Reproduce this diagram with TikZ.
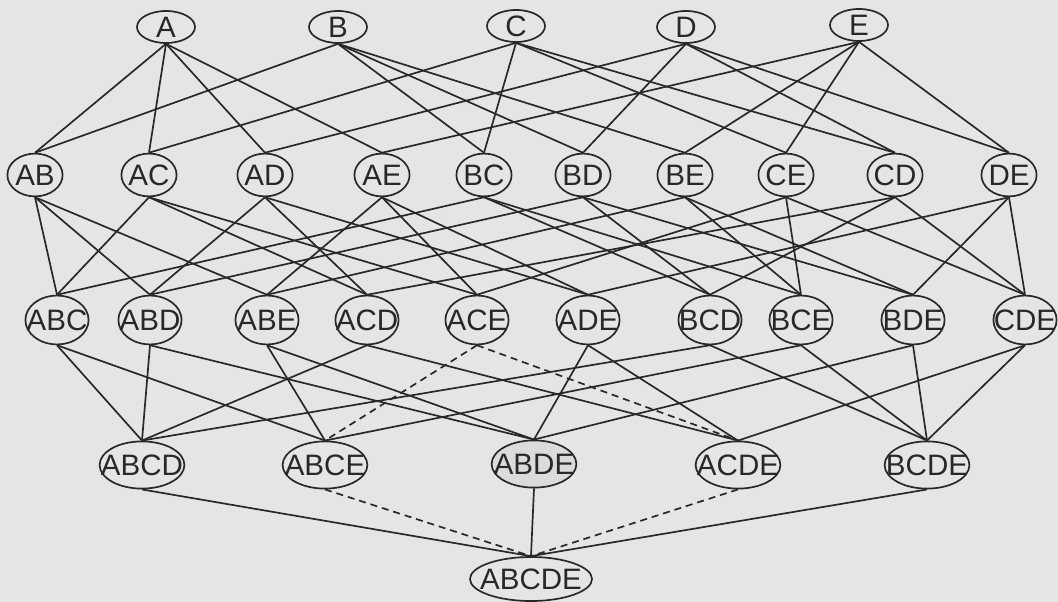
\documentclass[tikz,border=0pt]{standalone}
\usepackage{fontspec}
\setmainfont{Liberation Sans}
\usepackage{tikz}
\usetikzlibrary{shapes.geometric}
\definecolor{paper}{RGB}{229,229,231}
\definecolor{ink}{RGB}{40,40,42}
\definecolor{shade}{RGB}{219,219,222}
% label set in a zero-width box, so the ellipse keeps its own size
\newcommand{\setlbl}[1]{\makebox[0pt]{#1}}
\tikzset{
  setnode/.style={ellipse, draw=ink, line width=1.2pt, inner sep=0pt,
    font=\fontsize{21}{22}\selectfont, text=ink},
  lvone/.style={setnode, minimum width=1.45cm, minimum height=0.8cm},
  lvtwo/.style={setnode, minimum width=1.38cm, minimum height=1.07cm},
  lvthree/.style={setnode, minimum width=1.58cm, minimum height=1.22cm},
  lvfour/.style={setnode, minimum width=2.12cm, minimum height=1.18cm},
  lvfive/.style={setnode, minimum width=3.05cm, minimum height=1.1cm},
  link/.style={ink, line width=1.2pt},
  dlink/.style={link, dash pattern=on 5pt off 3.5pt}
}
\begin{document}
\begin{tikzpicture}[x=0.025cm, y=-0.025cm]
  % page background
  \fill[paper] (0,0) rectangle (1058,602);
  \useasboundingbox (0,0) rectangle (1058,602);

  % singletons
  \node[lvone] (A) at (166,27) {\setlbl{A}};
  \node[lvone] (B) at (338,27) {\setlbl{B}};
  \node[lvone] (C) at (516,26) {\setlbl{C}};
  \node[lvone] (D) at (686,27) {\setlbl{D}};
  \node[lvone] (E) at (859,25) {\setlbl{E}};

  % pairs
  \node[lvtwo] (AB) at (35,175) {\setlbl{AB}};
  \node[lvtwo] (AC) at (149,175) {\setlbl{AC}};
  \node[lvtwo] (AD) at (265,175) {\setlbl{AD}};
  \node[lvtwo] (AE) at (382,175) {\setlbl{AE}};
  \node[lvtwo] (BC) at (484,175) {\setlbl{BC}};
  \node[lvtwo] (BD) at (583,175) {\setlbl{BD}};
  \node[lvtwo] (BE) at (685,175) {\setlbl{BE}};
  \node[lvtwo] (CE) at (786,175) {\setlbl{CE}};
  \node[lvtwo] (CD) at (895,175) {\setlbl{CD}};
  \node[lvtwo] (DE) at (1009,175) {\setlbl{DE}};

  % triples
  \node[lvthree] (ABC) at (57,320) {\setlbl{ABC}};
  \node[lvthree] (ABD) at (150,320) {\setlbl{ABD}};
  \node[lvthree] (ABE) at (267,320) {\setlbl{ABE}};
  \node[lvthree] (ACD) at (367,320) {\setlbl{ACD}};
  \node[lvthree] (ACE) at (477,320) {\setlbl{ACE}};
  \node[lvthree] (ADE) at (588,320) {\setlbl{ADE}};
  \node[lvthree] (BCD) at (710,320) {\setlbl{BCD}};
  \node[lvthree] (BCE) at (801,320) {\setlbl{BCE}};
  \node[lvthree] (BDE) at (913,320) {\setlbl{BDE}};
  \node[lvthree] (CDE) at (1025,320) {\setlbl{CDE}};

  % quadruples
  \node[lvfour] (ABCD) at (142,465) {\setlbl{ABCD}};
  \node[lvfour] (ABCE) at (325,465) {\setlbl{ABCE}};
  \node[lvfour, fill=shade] (ABDE) at (534,464) {\setlbl{ABDE}};
  \node[lvfour] (ACDE) at (738,465) {\setlbl{ACDE}};
  \node[lvfour] (BCDE) at (927,465) {\setlbl{BCDE}};

  % full set
  \node[lvfive] (ABCDE) at (531,579) {\setlbl{ABCDE}};

  % level 1 to level 2
  \foreach \u/\v in {A/AB, A/AC, A/AD, A/AE, B/AB, B/BC, B/BD, B/BE,
      C/AC, C/BC, C/CE, C/CD, D/AD, D/BD, D/CD, D/DE,
      E/AE, E/BE, E/CE, E/DE}
    \draw[link] (\u.south) -- (\v.north);

  % level 2 to level 3
  \foreach \u/\v in {AB/ABC, AC/ABC, BC/ABC, AB/ABD, AD/ABD, BD/ABD,
      AB/ABE, AE/ABE, BE/ABE, AC/ACD, AD/ACD, CD/ACD,
      AC/ACE, AE/ACE, CE/ACE, AD/ADE, AE/ADE, DE/ADE,
      BC/BCD, BD/BCD, CD/BCD, BC/BCE, BE/BCE, CE/BCE,
      BD/BDE, BE/BDE, DE/BDE, CD/CDE, CE/CDE, DE/CDE}
    \draw[link] (\u.south) -- (\v.north);

  % level 3 to level 4
  \foreach \u/\v in {ABC/ABCD, ABD/ABCD, ACD/ABCD, BCD/ABCD,
      ABC/ABCE, ABE/ABCE, BCE/ABCE,
      ABD/ABDE, ABE/ABDE, ADE/ABDE, BDE/ABDE,
      ACD/ACDE, ADE/ACDE, CDE/ACDE,
      BCD/BCDE, BCE/BCDE, BDE/BCDE, CDE/BCDE}
    \draw[link] (\u.south) -- (\v.north);
  \draw[dlink] (ACE.south) -- (ABCE.north);
  \draw[dlink] (ACE.south) -- (ACDE.north);

  % level 4 to level 5
  \foreach \u in {ABCD, ABDE, BCDE}
    \draw[link] (\u.south) -- (ABCDE.north);
  \draw[dlink] (ABCE.south) -- (ABCDE.north);
  \draw[dlink] (ACDE.south) -- (ABCDE.north);
\end{tikzpicture}
\end{document}
